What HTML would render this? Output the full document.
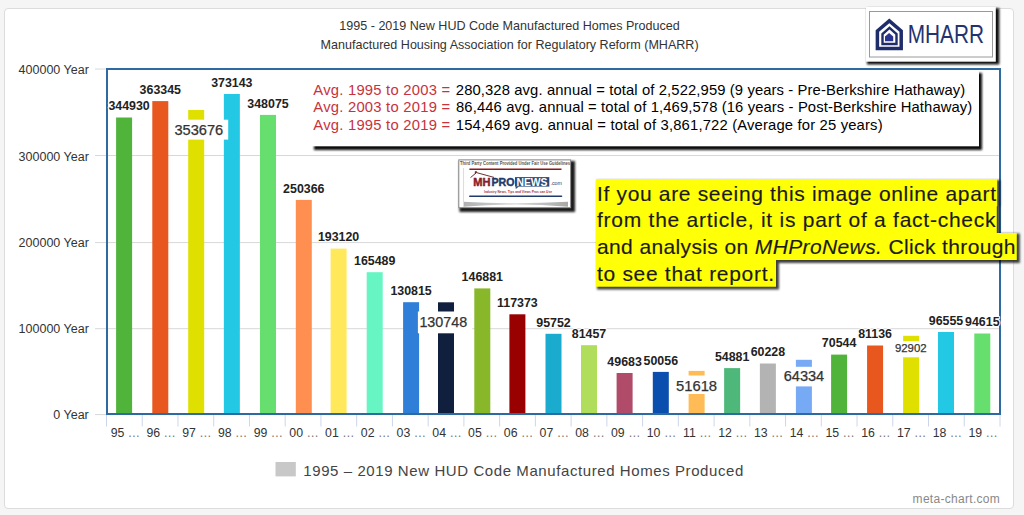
<!DOCTYPE html>
<html><head><meta charset="utf-8">
<style>
html,body{margin:0;padding:0;}
body{width:1024px;height:515px;background:#f5f5f5;position:relative;overflow:hidden;font-family:'Liberation Sans',sans-serif;}
#panel{position:absolute;left:4px;top:8px;width:1008px;height:499px;background:#fff;border:1px solid #dcdcdc;border-radius:4px;}
svg{position:absolute;left:0;top:0;}
.yl{font:12.5px 'Liberation Sans',sans-serif;fill:#333;}
.xl{font:12.3px 'Liberation Sans',sans-serif;fill:#333;}
.dl{font:bold 12.4px 'Liberation Sans',sans-serif;fill:#222;paint-order:stroke;stroke:#fff;stroke-width:2px;stroke-linejoin:round;}
.bl{font:14.6px 'Liberation Sans',sans-serif;fill:#333;}
.ttl{font:12.55px 'Liberation Sans',sans-serif;fill:#333;}
.an{font:14.8px 'Liberation Sans',sans-serif;}
.ye{font:21px 'Liberation Sans',sans-serif;fill:#1a1a1a;stroke:#1a1a1a;stroke-width:0.15px;}
.lg{font:15px 'Liberation Sans',sans-serif;fill:#444;}
.mc{font:12px 'Liberation Sans',sans-serif;fill:#888;}
</style></head><body>
<div id="panel"></div>
<svg width="1024" height="515" viewBox="0 0 1024 515">
<defs>
<linearGradient id="sw" x1="0" x2="1" y1="0" y2="0"><stop offset="0" stop-color="#b0b0b0"/><stop offset="0.5" stop-color="#d8d8d8"/><stop offset="1" stop-color="#a8a8a8"/></linearGradient>
<filter id="b08" x="-5%" y="-10%" width="110%" height="120%"><feGaussianBlur stdDeviation="0.8"/></filter>
<filter id="b1" x="-5%" y="-20%" width="110%" height="140%"><feGaussianBlur stdDeviation="1"/></filter>
<filter id="ds" x="-10%" y="-10%" width="130%" height="130%"><feDropShadow dx="3" dy="3" stdDeviation="1.2" flood-color="#000" flood-opacity="0.9"/></filter>
<filter id="ds2" x="-10%" y="-10%" width="130%" height="130%"><feDropShadow dx="3" dy="3" stdDeviation="1.3" flood-color="#000" flood-opacity="0.85"/></filter>
</defs>
<text x="509.5" y="29.6" text-anchor="middle" class="ttl">1995 - 2019 New HUD Code Manufactured Homes Produced</text>
<text x="509.6" y="49.3" text-anchor="middle" class="ttl">Manufactured Housing Association for Regulatory Reform (MHARR)</text>
<line x1="95" x2="1000" y1="414.6" y2="414.6" stroke="#d8d8d8" stroke-width="1"/>
<text x="88.8" y="418.8" text-anchor="end" class="yl">0 Year</text>
<line x1="95" x2="1000" y1="328.7" y2="328.7" stroke="#d8d8d8" stroke-width="1"/>
<text x="88.8" y="333.0" text-anchor="end" class="yl">100000 Year</text>
<line x1="95" x2="1000" y1="242.6" y2="242.6" stroke="#d8d8d8" stroke-width="1"/>
<text x="88.8" y="247.4" text-anchor="end" class="yl">200000 Year</text>
<line x1="95" x2="1000" y1="155.5" y2="155.5" stroke="#d8d8d8" stroke-width="1"/>
<text x="88.8" y="161.2" text-anchor="end" class="yl">300000 Year</text>
<line x1="95" x2="1000" y1="69.0" y2="69.0" stroke="#d8d8d8" stroke-width="1"/>
<text x="88.8" y="73.6" text-anchor="end" class="yl">400000 Year</text>
<line x1="106.50" x2="106.50" y1="415" y2="426.5" stroke="#ccd6eb" stroke-width="1"/>
<line x1="142.24" x2="142.24" y1="415" y2="426.5" stroke="#ccd6eb" stroke-width="1"/>
<line x1="177.98" x2="177.98" y1="415" y2="426.5" stroke="#ccd6eb" stroke-width="1"/>
<line x1="213.72" x2="213.72" y1="415" y2="426.5" stroke="#ccd6eb" stroke-width="1"/>
<line x1="249.46" x2="249.46" y1="415" y2="426.5" stroke="#ccd6eb" stroke-width="1"/>
<line x1="285.20" x2="285.20" y1="415" y2="426.5" stroke="#ccd6eb" stroke-width="1"/>
<line x1="320.94" x2="320.94" y1="415" y2="426.5" stroke="#ccd6eb" stroke-width="1"/>
<line x1="356.68" x2="356.68" y1="415" y2="426.5" stroke="#ccd6eb" stroke-width="1"/>
<line x1="392.42" x2="392.42" y1="415" y2="426.5" stroke="#ccd6eb" stroke-width="1"/>
<line x1="428.16" x2="428.16" y1="415" y2="426.5" stroke="#ccd6eb" stroke-width="1"/>
<line x1="463.90" x2="463.90" y1="415" y2="426.5" stroke="#ccd6eb" stroke-width="1"/>
<line x1="499.64" x2="499.64" y1="415" y2="426.5" stroke="#ccd6eb" stroke-width="1"/>
<line x1="535.38" x2="535.38" y1="415" y2="426.5" stroke="#ccd6eb" stroke-width="1"/>
<line x1="571.12" x2="571.12" y1="415" y2="426.5" stroke="#ccd6eb" stroke-width="1"/>
<line x1="606.86" x2="606.86" y1="415" y2="426.5" stroke="#ccd6eb" stroke-width="1"/>
<line x1="642.60" x2="642.60" y1="415" y2="426.5" stroke="#ccd6eb" stroke-width="1"/>
<line x1="678.34" x2="678.34" y1="415" y2="426.5" stroke="#ccd6eb" stroke-width="1"/>
<line x1="714.08" x2="714.08" y1="415" y2="426.5" stroke="#ccd6eb" stroke-width="1"/>
<line x1="749.82" x2="749.82" y1="415" y2="426.5" stroke="#ccd6eb" stroke-width="1"/>
<line x1="785.56" x2="785.56" y1="415" y2="426.5" stroke="#ccd6eb" stroke-width="1"/>
<line x1="821.30" x2="821.30" y1="415" y2="426.5" stroke="#ccd6eb" stroke-width="1"/>
<line x1="857.04" x2="857.04" y1="415" y2="426.5" stroke="#ccd6eb" stroke-width="1"/>
<line x1="892.78" x2="892.78" y1="415" y2="426.5" stroke="#ccd6eb" stroke-width="1"/>
<line x1="928.52" x2="928.52" y1="415" y2="426.5" stroke="#ccd6eb" stroke-width="1"/>
<line x1="964.26" x2="964.26" y1="415" y2="426.5" stroke="#ccd6eb" stroke-width="1"/>
<line x1="1000.00" x2="1000.00" y1="415" y2="426.5" stroke="#ccd6eb" stroke-width="1"/>
<rect x="116.10" y="117.5" width="16" height="296.5" fill="#50b33a"/>
<rect x="152.30" y="101.1" width="16" height="312.9" fill="#e8571d"/>
<rect x="188.20" y="110.0" width="16" height="304.0" fill="#dfe000"/>
<rect x="223.85" y="94.0" width="16" height="320.0" fill="#22c8e4"/>
<rect x="260.00" y="114.9" width="16" height="299.1" fill="#66df6f"/>
<rect x="295.80" y="199.9" width="16" height="214.1" fill="#ff8f50"/>
<rect x="330.60" y="248.6" width="16" height="165.4" fill="#ffe95a"/>
<rect x="366.70" y="272.2" width="16" height="141.8" fill="#66f5c3"/>
<rect x="403.10" y="302.2" width="16" height="111.8" fill="#2f7fd8"/>
<rect x="438.00" y="302.3" width="16" height="111.7" fill="#0f1f3d"/>
<rect x="474.30" y="288.4" width="16" height="125.6" fill="#88b82a"/>
<rect x="509.40" y="314.3" width="16" height="99.7" fill="#990000"/>
<rect x="545.50" y="333.8" width="16" height="80.2" fill="#1aabce"/>
<rect x="581.00" y="345.2" width="16" height="68.8" fill="#b0dd5c"/>
<rect x="616.60" y="373.0" width="16" height="41.0" fill="#b04c6a"/>
<rect x="652.80" y="371.9" width="16" height="42.1" fill="#0b4fae"/>
<rect x="688.60" y="370.9" width="16" height="43.1" fill="#ffbb55"/>
<rect x="724.14" y="368.1" width="16" height="45.9" fill="#4db87a"/>
<rect x="759.87" y="363.5" width="16" height="50.5" fill="#b3b3b3"/>
<rect x="795.90" y="359.8" width="16" height="54.2" fill="#77aaf5"/>
<rect x="831.10" y="354.6" width="16" height="59.4" fill="#50b33a"/>
<rect x="867.07" y="345.5" width="16" height="68.5" fill="#e8571d"/>
<rect x="903.10" y="335.8" width="16" height="78.2" fill="#dfe000"/>
<rect x="938.00" y="332.0" width="16" height="82.0" fill="#22c8e4"/>
<rect x="974.30" y="333.5" width="16" height="80.5" fill="#66df6f"/>
<text x="125.37" y="436.6" text-anchor="middle" class="xl">95 <tspan fill="#777">…</tspan></text>
<text x="161.11" y="436.6" text-anchor="middle" class="xl">96 <tspan fill="#777">…</tspan></text>
<text x="196.85" y="436.6" text-anchor="middle" class="xl">97 <tspan fill="#777">…</tspan></text>
<text x="232.59" y="436.6" text-anchor="middle" class="xl">98 <tspan fill="#777">…</tspan></text>
<text x="268.33" y="436.6" text-anchor="middle" class="xl">99 <tspan fill="#777">…</tspan></text>
<text x="304.07" y="436.6" text-anchor="middle" class="xl">00 <tspan fill="#777">…</tspan></text>
<text x="339.81" y="436.6" text-anchor="middle" class="xl">01 <tspan fill="#777">…</tspan></text>
<text x="375.55" y="436.6" text-anchor="middle" class="xl">02 <tspan fill="#777">…</tspan></text>
<text x="411.29" y="436.6" text-anchor="middle" class="xl">03 <tspan fill="#777">…</tspan></text>
<text x="447.03" y="436.6" text-anchor="middle" class="xl">04 <tspan fill="#777">…</tspan></text>
<text x="482.77" y="436.6" text-anchor="middle" class="xl">05 <tspan fill="#777">…</tspan></text>
<text x="518.51" y="436.6" text-anchor="middle" class="xl">06 <tspan fill="#777">…</tspan></text>
<text x="554.25" y="436.6" text-anchor="middle" class="xl">07 <tspan fill="#777">…</tspan></text>
<text x="589.99" y="436.6" text-anchor="middle" class="xl">08 <tspan fill="#777">…</tspan></text>
<text x="625.73" y="436.6" text-anchor="middle" class="xl">09 <tspan fill="#777">…</tspan></text>
<text x="661.47" y="436.6" text-anchor="middle" class="xl">10 <tspan fill="#777">…</tspan></text>
<text x="697.21" y="436.6" text-anchor="middle" class="xl">11 <tspan fill="#777">…</tspan></text>
<text x="732.95" y="436.6" text-anchor="middle" class="xl">12 <tspan fill="#777">…</tspan></text>
<text x="768.69" y="436.6" text-anchor="middle" class="xl">13 <tspan fill="#777">…</tspan></text>
<text x="804.43" y="436.6" text-anchor="middle" class="xl">14 <tspan fill="#777">…</tspan></text>
<text x="840.17" y="436.6" text-anchor="middle" class="xl">15 <tspan fill="#777">…</tspan></text>
<text x="875.91" y="436.6" text-anchor="middle" class="xl">16 <tspan fill="#777">…</tspan></text>
<text x="911.65" y="436.6" text-anchor="middle" class="xl">17 <tspan fill="#777">…</tspan></text>
<text x="947.39" y="436.6" text-anchor="middle" class="xl">18 <tspan fill="#777">…</tspan></text>
<text x="983.13" y="436.6" text-anchor="middle" class="xl">19 <tspan fill="#777">…</tspan></text>
<rect x="107" y="69" width="893" height="345" fill="none" stroke="#2d6aa2" stroke-width="2"/>
<text x="129.10" y="110.2" text-anchor="middle" class="dl">344930</text>
<text x="160.30" y="93.8" text-anchor="middle" class="dl">363345</text>
<text x="231.85" y="86.7" text-anchor="middle" class="dl">373143</text>
<text x="268.00" y="107.6" text-anchor="middle" class="dl">348075</text>
<text x="303.80" y="192.6" text-anchor="middle" class="dl">250366</text>
<text x="338.60" y="241.3" text-anchor="middle" class="dl">193120</text>
<text x="374.70" y="264.9" text-anchor="middle" class="dl">165489</text>
<text x="411.10" y="294.9" text-anchor="middle" class="dl">130815</text>
<text x="482.30" y="281.1" text-anchor="middle" class="dl">146881</text>
<text x="517.40" y="307.0" text-anchor="middle" class="dl">117373</text>
<text x="553.50" y="326.5" text-anchor="middle" class="dl">95752</text>
<text x="589.00" y="337.9" text-anchor="middle" class="dl">81457</text>
<text x="624.60" y="365.7" text-anchor="middle" class="dl">49683</text>
<text x="660.80" y="364.6" text-anchor="middle" class="dl">50056</text>
<text x="732.14" y="360.8" text-anchor="middle" class="dl">54881</text>
<text x="767.87" y="356.2" text-anchor="middle" class="dl">60228</text>
<text x="839.10" y="347.3" text-anchor="middle" class="dl">70544</text>
<text x="875.07" y="338.2" text-anchor="middle" class="dl">81136</text>
<text x="946.00" y="324.7" text-anchor="middle" class="dl">96555</text>
<text x="982.30" y="326.2" text-anchor="middle" class="dl">94615</text>
<rect x="172.9" y="119.7" width="55.3" height="19.9" fill="#fff"/>
<text x="174.4" y="134.8" textLength="48.8" lengthAdjust="spacingAndGlyphs" style="font:14.6px 'Liberation Sans',sans-serif;fill:#333;stroke:#333;stroke-width:0.25px">353676</text>
<rect x="417.9" y="311.5" width="54.3" height="21.8" fill="#fff"/>
<text x="419.4" y="327.2" textLength="47.8" lengthAdjust="spacingAndGlyphs" style="font:14.6px 'Liberation Sans',sans-serif;fill:#333;stroke:#333;stroke-width:0.25px">130748</text>
<rect x="674.5" y="375.5" width="47.6" height="18.5" fill="#fff"/>
<text x="676.0" y="391.1" textLength="41.1" lengthAdjust="spacingAndGlyphs" style="font:14.8px 'Liberation Sans',sans-serif;fill:#333;stroke:#333;stroke-width:0.25px">51618</text>
<rect x="782.2" y="366.8" width="47.0" height="19.6" fill="#fff"/>
<text x="783.7" y="380.8" textLength="40.5" lengthAdjust="spacingAndGlyphs" style="font:14.6px 'Liberation Sans',sans-serif;fill:#333;stroke:#333;stroke-width:0.25px">64334</text>
<rect x="893.4" y="341.2" width="38.2" height="16.1" fill="#fff"/>
<text x="894.9" y="351.7" textLength="31.7" lengthAdjust="spacingAndGlyphs" style="font:11.5px 'Liberation Sans',sans-serif;fill:#333;stroke:#333;stroke-width:0.25px">92902</text>
<rect x="314" y="73" width="668" height="77" fill="#111" filter="url(#b1)"/>
<rect x="305" y="70" width="674" height="76.3" fill="#fff"/>
<text x="313.3" y="94.6" class="an" fill="#c8323c" textLength="136.8" lengthAdjust="spacing">Avg. 1995 to 2003 =</text>
<text x="455.8" y="94.6" class="an" textLength="509.5" lengthAdjust="spacing">280,328 avg. annual = total of 2,522,959 (9 years - Pre-Berkshire Hathaway)</text>
<text x="313.3" y="112.4" class="an" fill="#c8323c" textLength="136.8" lengthAdjust="spacing">Avg. 2003 to 2019 =</text>
<text x="456.0" y="112.4" class="an" textLength="516.3" lengthAdjust="spacing">86,446 avg. annual = total of 1,469,578 (16 years - Post-Berkshire Hathaway)</text>
<text x="313.3" y="130.2" class="an" fill="#c8323c" textLength="136.8" lengthAdjust="spacing">Avg. 1995 to 2019 =</text>
<text x="455.8" y="130.2" class="an" textLength="426.8" lengthAdjust="spacing">154,469 avg. annual = total of 3,861,722 (Average for 25 years)</text>
<rect x="867" y="8.2" width="132.3" height="56.2" fill="#111" filter="url(#b08)"/>
<rect x="866" y="7" width="129.8" height="54.7" fill="#fff"/>
<rect x="869.5" y="11.5" width="123" height="45.5" fill="none" stroke="#9a9a9a" stroke-width="1"/>
<path d="M877.4 48.6 V31 L889.3 20.8 L901.2 31 V48.6 Z" fill="none" stroke="#1f2d6b" stroke-width="3.5" stroke-linejoin="miter"/>
<path d="M882.5 44 V34 L889.5 27.8 L896.5 34 V44 Z" fill="none" stroke="#1f2d6b" stroke-width="2.4"/>
<path d="M885 41.2 V36.5 L889.1 33 L893.2 36.5 V41.2 Z" fill="#2a3590"/>
<text x="907.7" y="43.4" textLength="76.3" lengthAdjust="spacingAndGlyphs" style="font:26.5px 'Liberation Sans',sans-serif;fill:#24336f">MHARR</text>
<rect x="459.5" y="161" width="115.5" height="51" fill="#1a1a1a" filter="url(#b08)"/>
<rect x="458.8" y="159.9" width="111.8" height="47.8" fill="#fff" stroke="#8a8a8a" stroke-width="1"/>
<text x="460" y="164.8" textLength="110" lengthAdjust="spacingAndGlyphs" style="font:bold 4.8px 'Liberation Sans',sans-serif;fill:#555">Third Party Content Provided Under Fair Use Guidelines</text>
<line x1="469.4" x2="561.5" y1="169.2" y2="169.2" stroke="#8b1a1a" stroke-width="1.6"/>
<line x1="469.8" x2="561.5" y1="196.2" y2="196.2" stroke="#1f3a6b" stroke-width="1.6" stroke-linecap="round"/>
<path d="M470.5 177.6 L476.5 172.6 L494 177.4" fill="none" stroke="#5a1a1a" stroke-width="0.9"/>
<path d="M475.2 173.6 V171.6 H476.6 V172.6" fill="#5a1a1a" stroke="#5a1a1a" stroke-width="0.6"/>
<path d="M515.5 186.4 L515.8 189 L519 186.4 Z" fill="#2a4a7a"/>
<text x="473.3" y="186" textLength="17.2" lengthAdjust="spacingAndGlyphs" style="font:bold 10.8px 'Liberation Sans',sans-serif;fill:#8b1a2a;stroke:#8b1a2a;stroke-width:0.45px">MH</text>
<text x="491.5" y="186" textLength="23" lengthAdjust="spacingAndGlyphs" style="font:bold 10.8px 'Liberation Sans',sans-serif;fill:#1f3a6b;stroke:#1f3a6b;stroke-width:0.45px">PRO</text>
<rect x="515" y="177.1" width="34.3" height="9.5" fill="#2a4a7a"/>
<text x="516.5" y="185.8" textLength="31" lengthAdjust="spacingAndGlyphs" style="font:bold 10.5px 'Liberation Sans',sans-serif;fill:#fff">NEWS</text>
<text x="550.5" y="185" textLength="11.5" lengthAdjust="spacingAndGlyphs" style="font:4.5px 'Liberation Sans',sans-serif;fill:#1f3a6b">.com</text>
<text x="484" y="192.5" textLength="68" lengthAdjust="spacingAndGlyphs" style="font:bold 4.2px 'Liberation Sans',sans-serif;fill:#a33">Industry News, Tips and Views Pros can Use</text>
<path d="M463 201.8 Q515 204.6 568 201.8 L568 206.8 Q515 202.4 463 206.8 Z" fill="url(#sw)"/>
<line x1="463.5" x2="463.5" y1="168" y2="207" stroke="#ddd" stroke-width="1"/>
<polygon points="597,180 1000.3,180 1000.3,206.2 999.8,206.2 999.8,233.6 1019.8,233.6 1019.8,263.0 779,263.0 779,289.6 597,289.6" fill="#000" opacity="0.75" filter="url(#b1)"/>
<polygon points="596,178.9 997.3,178.9 997.3,206.2 996.8,206.2 996.8,233.1 1016.8,233.1 1016.8,260.0 776,260.0 776,286.8 596,286.8" fill="#ffff08"/>
<text x="597.0" y="200.5" class="ye" textLength="399.0" lengthAdjust="spacing">If you are seeing this image online apart</text>
<text x="597.0" y="227.3" class="ye" textLength="398.5" lengthAdjust="spacing">from the article, it is part of a fact-check</text>
<text x="597.0" y="254.2" class="ye" textLength="418.5" lengthAdjust="spacing">and analysis on <tspan font-style="italic">MHProNews.</tspan> Click through</text>
<text x="597.0" y="281.0" class="ye" textLength="177.0" lengthAdjust="spacing">to see that report.</text>
<rect x="275.5" y="462" width="20.3" height="14.4" fill="#c8c8c8"/>
<text x="303.3" y="475.7" class="lg" textLength="440" lengthAdjust="spacing">1995 – 2019 New HUD Code Manufactured Homes Produced</text>
<text x="912.6" y="502.8" class="mc" textLength="87.2" lengthAdjust="spacing">meta-chart.com</text>
</svg>
</body></html>
